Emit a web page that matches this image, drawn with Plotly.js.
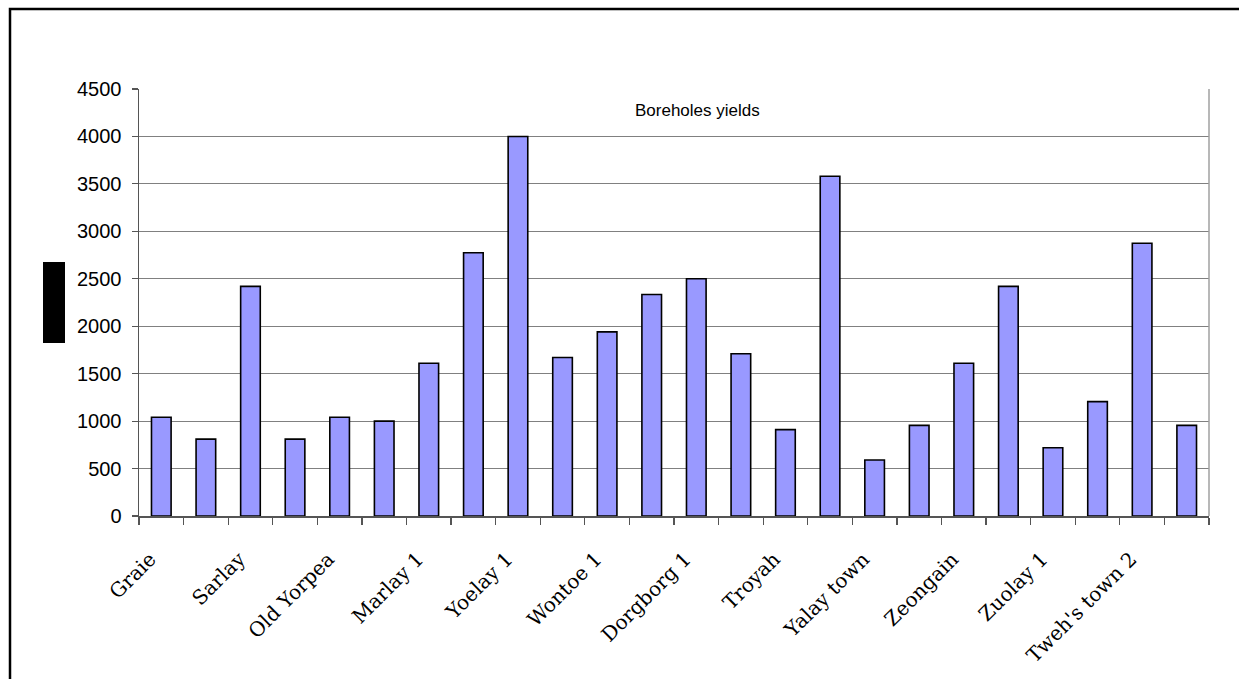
<!DOCTYPE html>
<html>
<head>
<meta charset="utf-8">
<script src="https://cdn.plot.ly/plotly-3.0.1.min.js"></script>
<style>html,body{margin:0;padding:0;background:#fff;}#chart{width:1239px;height:679px;}</style>
</head>
<body>
<div id="chart"></div>
<script>
// Visible tick labels (every other borehole is labelled in the original)
const tickLabels = ["Graie", "Sarlay", "Old Yorpea", "Marlay 1", "Yoelay 1", "Wontoe 1",
  "Dorgborg 1", "Troyah", "Yalay town", "Zeongain", "Zuolay 1", "Tweh's town 2"];
// Borehole yields, one per bar (24 boreholes)
const yields = [1040, 810, 2420, 810, 1040, 1000, 1610, 2775, 4000, 1670, 1940, 2335,
  2500, 1710, 910, 3580, 590, 955, 1610, 2420, 720, 1205, 2875, 955];
const chartTitle = "Boreholes yields";
const yTicks = [0, 500, 1000, 1500, 2000, 2500, 3000, 3500, 4000, 4500];

const xPos = yields.map((_, i) => i);
const labelShift = -0.25;  // rotated labels sit slightly left of the bar centre
const tickPos = tickLabels.map((_, i) => i * 2 + labelShift);

const W = 1239, H = 679, L = 139, R = 30, T = 89, B = 163;
const pw = W - L - R, ph = H - T - B;
const px = v => (v - L) / pw;          // pixel -> paper x
const py = v => (H - B - v) / ph;      // pixel -> paper y

const trace = {
  type: 'bar',
  x: xPos,
  y: yields,
  width: 0.44,
  marker: {color: '#9999FF', line: {color: '#000000', width: 1.6}},
  hoverinfo: 'y'
};

const layout = {
  width: W, height: H,
  margin: {l: L, r: R, t: T, b: B, pad: 0},
  paper_bgcolor: '#ffffff',
  plot_bgcolor: '#ffffff',
  showlegend: false,
  bargap: 0,
  xaxis: {
    type: 'linear',
    range: [-0.5, yields.length - 0.5],
    tickmode: 'array',
    tickvals: tickPos,
    ticktext: tickLabels,
    tickangle: -45,
    ticks: '',
    ticklabelstandoff: 22,
    tickfont: {family: 'DejaVu Serif', size: 20, color: '#000'},
    showgrid: false,
    zeroline: false,
    showline: true,
    linecolor: '#555555',
    linewidth: 1.5,
    minor: {ticks: 'outside', ticklen: 7, tickcolor: '#555555', tickwidth: 1.2,
            tick0: -0.5, dtick: 1, showgrid: false},
    fixedrange: true
  },
  yaxis: {
    range: [0, 4500],
    tickmode: 'array',
    tickvals: yTicks,
    ticks: 'outside',
    ticklen: 6,
    tickcolor: '#555555',
    tickwidth: 1.2,
    ticklabelstandoff: 6,
    tickfont: {family: 'Liberation Sans', size: 20, color: '#000'},
    showgrid: true,
    gridcolor: '#808080',
    gridwidth: 1.2,
    zeroline: false,
    showline: true,
    linecolor: '#555555',
    linewidth: 1.5,
    fixedrange: true
  },
  annotations: [{
    text: chartTitle,
    xref: 'paper', yref: 'paper',
    x: px(697), y: py(111),
    xanchor: 'center', yanchor: 'middle',
    showarrow: false,
    font: {family: 'Liberation Sans', size: 17, color: '#000'}
  }],
  shapes: [
    // outer chart frame
    {type: 'rect', xref: 'paper', yref: 'paper',
     x0: px(10), x1: px(1260), y0: py(700), y1: py(9),
     line: {color: '#000', width: 2.5}, fillcolor: 'rgba(0,0,0,0)', layer: 'above'},
    // right edge of plot area
    {type: 'line', xref: 'paper', yref: 'paper',
     x0: 1, x1: 1, y0: 0, y1: 1,
     line: {color: '#a0a0a0', width: 1.5}},
    // black redaction block over axis title
    {type: 'rect', xref: 'paper', yref: 'paper',
     x0: px(43), x1: px(65), y0: py(343), y1: py(262),
     line: {width: 0}, fillcolor: '#000', layer: 'above'}
  ]
};

Plotly.newPlot('chart', [trace], layout, {staticPlot: true, displayModeBar: false});
</script>
</body>
</html>
